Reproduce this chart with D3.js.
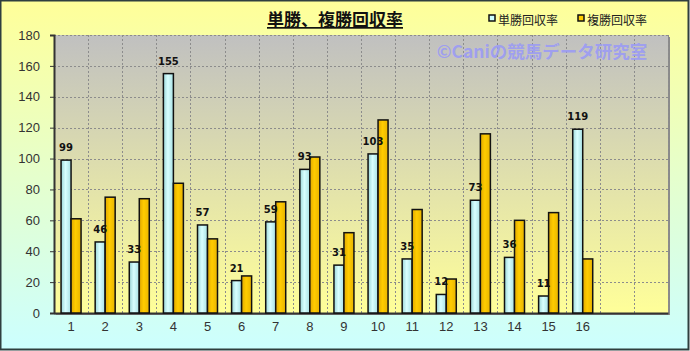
<!DOCTYPE html>
<html>
<head>
<meta charset="utf-8">
<script src="https://cdn.jsdelivr.net/npm/d3@7"></script>
<style>
  body { margin: 0; background: #fff; }
  svg { display: block; font-family: "Noto Sans CJK JP", "DejaVu Sans", sans-serif; }
</style>
</head>
<body>
<div id="chart"></div>
<script>
// Data
const categories = ["1","2","3","4","5","6","7","8","9","10","11","12","13","14","15","16","",""];
const tanshoValues = [99, 46, 33, 155, 57, 21, 59, 93, 31, 103, 35, 12, 73, 36, 11, 119];
const fukushoValues = [61, 75, 74, 84, 48, 24, 72, 101, 52, 125, 67, 22, 116, 60, 65, 35];
const yTicks = [0, 20, 40, 60, 80, 100, 120, 140, 160, 180];
const seriesNames = ["単勝回収率", "複勝回収率"];

const W = 690, H = 351;
const plot = { left: 54, top: 35, right: 668, bottom: 313 };

const svg = d3.select("#chart").append("svg")
    .attr("width", W)
    .attr("height", H);

const defs = svg.append("defs");

// outer background: yellow to cyan
const bgGrad = defs.append("linearGradient").attr("id", "bg").attr("x1", 0).attr("y1", 0).attr("x2", 0).attr("y2", 1);
bgGrad.append("stop").attr("offset", "0%").attr("stop-color", "#ffff99");
bgGrad.append("stop").attr("offset", "100%").attr("stop-color", "#ccffff");

// plot background: gray to yellow
const plotGrad = defs.append("linearGradient").attr("id", "plotbg").attr("x1", 0).attr("y1", 0).attr("x2", 0).attr("y2", 1);
plotGrad.append("stop").attr("offset", "0%").attr("stop-color", "#c0c0c0");
plotGrad.append("stop").attr("offset", "100%").attr("stop-color", "#ffff99");

// bar shading, a bit cylindrical
const cyanGrad = defs.append("linearGradient").attr("id", "cyanbar").attr("x1", 0).attr("y1", 0).attr("x2", 1).attr("y2", 0);
cyanGrad.append("stop").attr("offset", "0%").attr("stop-color", "#9cd6d8");
cyanGrad.append("stop").attr("offset", "45%").attr("stop-color", "#d8ffff");
cyanGrad.append("stop").attr("offset", "100%").attr("stop-color", "#a8e0e4");
const goldGrad = defs.append("linearGradient").attr("id", "goldbar").attr("x1", 0).attr("y1", 0).attr("x2", 1).attr("y2", 0);
goldGrad.append("stop").attr("offset", "0%").attr("stop-color", "#e0a800");
goldGrad.append("stop").attr("offset", "45%").attr("stop-color", "#ffcc00");
goldGrad.append("stop").attr("offset", "100%").attr("stop-color", "#e8b400");

svg.append("rect")
    .attr("x", 0.5).attr("y", 0.5)
    .attr("width", W - 2).attr("height", H - 2)
    .attr("fill", "url(#bg)")
    .attr("stroke", "#2f3f3f")
    .attr("stroke-width", 2);

// scales
const x = d3.scaleBand()
    .domain(d3.range(categories.length))
    .range([plot.left, plot.right])
    .paddingInner(0).paddingOuter(0);

const y = d3.scaleLinear()
    .domain([0, 180])
    .range([plot.bottom, plot.top]);

// plot area with a small shadow
svg.append("rect")
    .attr("x", plot.left + 2).attr("y", plot.top + 2)
    .attr("width", plot.right - plot.left).attr("height", plot.bottom - plot.top)
    .attr("fill", "#8a8a8a");
svg.append("rect")
    .attr("x", plot.left).attr("y", plot.top)
    .attr("width", plot.right - plot.left).attr("height", plot.bottom - plot.top)
    .attr("fill", "url(#plotbg)");

// grid lines
const grid = svg.append("g").attr("stroke", "#8c8c8c").attr("stroke-dasharray", "2,2").attr("stroke-width", 1);
grid.selectAll("line.h")
    .data(yTicks.filter(d => d > 0))
    .join("line")
    .attr("class", "h")
    .attr("x1", plot.left).attr("x2", plot.right)
    .attr("y1", d => Math.round(y(d)) + 0.5).attr("y2", d => Math.round(y(d)) + 0.5);
grid.selectAll("line.v")
    .data(d3.range(1, categories.length + 1))
    .join("line")
    .attr("class", "v")
    .attr("x1", i => Math.round(plot.left + i * x.step()) + 0.5)
    .attr("x2", i => Math.round(plot.left + i * x.step()) + 0.5)
    .attr("y1", plot.top).attr("y2", plot.bottom);

// axes
const yAxis = d3.axisLeft(y).tickValues(yTicks).tickSize(4).tickPadding(10);
const gy = svg.append("g")
    .attr("transform", `translate(${plot.left},0)`)
    .call(yAxis);
gy.select(".domain").attr("stroke", "#333").attr("stroke-width", 2);
gy.selectAll(".tick line").attr("stroke", "#333");
gy.selectAll(".tick text")
    .attr("font-family", "Liberation Sans, Arial, sans-serif")
    .attr("font-size", 13).attr("fill", "#333");

const xAxis = d3.axisBottom(x).tickFormat(i => categories[i]).tickSize(0).tickPadding(9);
const gx = svg.append("g")
    .attr("transform", `translate(0,${plot.bottom})`)
    .call(xAxis);
gx.select(".domain").attr("stroke", "#333").attr("stroke-width", 2);
gx.selectAll(".tick text")
    .attr("font-family", "Liberation Sans, Arial, sans-serif")
    .attr("font-size", 13).attr("fill", "#333");

// bars
const barW = 10;
const groups = svg.append("g");
groups.selectAll("rect.tan")
    .data(tanshoValues)
    .join("rect")
    .attr("class", "tan")
    .attr("x", (d, i) => x(i) + x.bandwidth() / 2 - barW)
    .attr("y", d => y(d))
    .attr("width", barW)
    .attr("height", d => plot.bottom - y(d))
    .attr("fill", "url(#cyanbar)")
    .attr("stroke", "#111")
    .attr("stroke-width", 1.5);
groups.selectAll("rect.fuku")
    .data(fukushoValues)
    .join("rect")
    .attr("class", "fuku")
    .attr("x", (d, i) => x(i) + x.bandwidth() / 2)
    .attr("y", d => y(d))
    .attr("width", barW)
    .attr("height", d => plot.bottom - y(d))
    .attr("fill", "url(#goldbar)")
    .attr("stroke", "#111")
    .attr("stroke-width", 1.5);

// data labels above the 単勝 bars
svg.append("g").selectAll("text")
    .data(tanshoValues)
    .join("text")
    .attr("x", (d, i) => x(i) + x.bandwidth() / 2 - barW / 2)
    .attr("y", d => y(d) - 9)
    .attr("text-anchor", "middle")
    .attr("font-family", "DejaVu Sans, sans-serif")
    .attr("font-size", 10)
    .attr("font-weight", "bold")
    .attr("fill", "#111")
    .text(d => d);

// title
svg.append("text")
    .attr("x", 335).attr("y", 26)
    .attr("text-anchor", "middle")
    .attr("font-size", 17)
    .attr("font-weight", "bold")
    .attr("fill", "#111")
    .attr("text-decoration", "underline")
    .text("単勝、複勝回収率");

// watermark
svg.append("text")
    .attr("x", 542).attr("y", 58)
    .attr("text-anchor", "middle")
    .attr("font-size", 17.5)
    .attr("font-weight", "bold")
    .attr("fill", "#9a9af5")
    .attr("fill-opacity", 0.9)
    .text("©Caniの競馬データ研究室");

// legend
const legend = svg.append("g").attr("transform", "translate(489,20)");
const legendItems = legend.selectAll("g")
    .data(seriesNames)
    .join("g")
    .attr("transform", (d, i) => `translate(${i * 89},0)`);
legendItems.append("rect")
    .attr("x", 0).attr("y", -5)
    .attr("width", 6).attr("height", 6)
    .attr("fill", (d, i) => i === 0 ? "#ccffff" : "#ffcc00")
    .attr("stroke", "#111").attr("stroke-width", 1.5);
legendItems.append("text")
    .attr("x", 9).attr("y", 2)
    .attr("dominant-baseline", "middle")
    .attr("font-size", 12)
    .attr("fill", "#222")
    .text(d => d);
</script>
</body>
</html>
